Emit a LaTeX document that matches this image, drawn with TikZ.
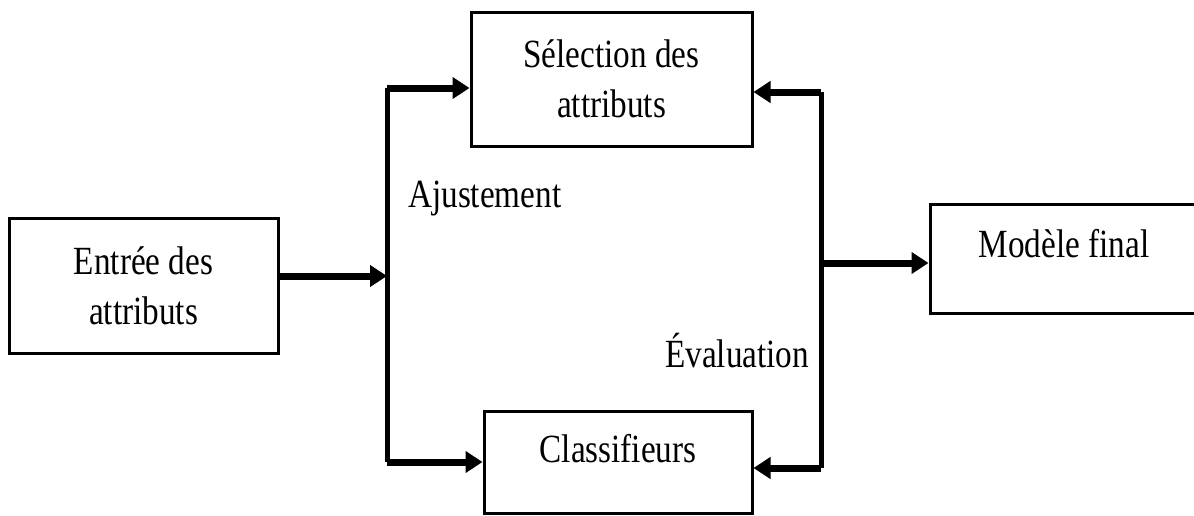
\documentclass[tikz,border=0pt]{standalone}
\usepackage{fontspec}
\setmainfont[FakeStretch=0.83]{Liberation Serif}
\usetikzlibrary{arrows.meta}
\begin{document}
\begin{tikzpicture}[x=1pt,y=-1pt,
  box/.style={draw,line width=3pt,inner sep=0pt},
  txt/.style={font=\fontsize{40}{50}\selectfont,inner sep=0pt,align=center},
  flow/.style={line width=7pt,line join=miter,-{Triangle[length=17pt,width=21pt]}},
  bus/.style={line width=5pt,line join=miter}]
\useasboundingbox (0,0) rectangle (1194,515);
\clip (0,0) rectangle (1194,515);
% boxes
\node[box,minimum width=269pt,minimum height=135pt,txt] (entree) at (143.5,285.5) {Entrée des\\attributs};
\node[box,minimum width=281pt,minimum height=134pt,txt] (selection) at (611.5,79) {Sélection des\\attributs};
\node[box,minimum width=268pt,minimum height=102pt] (classif) at (618,462) {};
\node[box,minimum width=272pt,minimum height=109pt] (modele) at (1066,258.5) {};
% texts
\node[txt,anchor=base] (tclassif) at (618,462) {Classifieurs};
\node[txt,anchor=base] (tmodele) at (1064,257) {Modèle final};
\node[txt,anchor=base west] (ajust) at (408,207) {Ajustement};
\node[txt,anchor=base west] (eval) at (665,367) {Évaluation};
% junctions
\coordinate (jl) at (387,276);
\coordinate (lt) at (387,88);
\coordinate (lb) at (387,462);
\coordinate (rt) at (821,92);
\coordinate (rm) at (821,263);
\coordinate (rb) at (821,468);
% connectors
\draw[bus] (lt) -- (lb);
\draw[bus] (rt) -- (rb);
\draw[flow] (entree.east |- jl) -- (jl);
\draw[flow] (lt) -- (selection.west |- lt);
\draw[flow] (lb) -- (classif.west |- lb);
\draw[flow] (rt) -- (selection.east |- rt);
\draw[flow] (rb) -- (classif.east |- rb);
\draw[flow] (rm) -- (modele.west |- rm);
\end{tikzpicture}
\end{document}
